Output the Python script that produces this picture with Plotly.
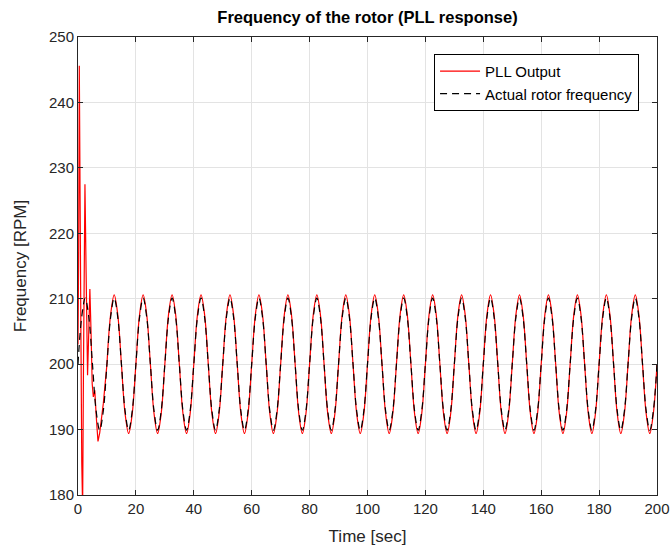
import plotly.graph_objects as go

# ---------------- data ----------------
SAMPLE_STEP = 1.25  # seconds between samples of the steady-state traces

# Actual rotor frequency (RPM), one row per 10 s period, t = 0 .. 200
actual_rpm = [
    200.0, 207.1, 210.1, 207.1, 200.0, 192.9, 189.9, 192.9,
    200.0, 207.1, 210.1, 207.1, 200.0, 192.9, 189.9, 192.9,
    200.0, 207.1, 210.1, 207.1, 200.0, 192.9, 189.9, 192.9,
    200.0, 207.1, 210.1, 207.1, 200.0, 192.9, 189.9, 192.9,
    200.0, 207.1, 210.1, 207.1, 200.0, 192.9, 189.9, 192.9,
    200.0, 207.1, 210.1, 207.1, 200.0, 192.9, 189.9, 192.9,
    200.0, 207.1, 210.1, 207.1, 200.0, 192.9, 189.9, 192.9,
    200.0, 207.1, 210.1, 207.1, 200.0, 192.9, 189.9, 192.9,
    200.0, 207.1, 210.1, 207.1, 200.0, 192.9, 189.9, 192.9,
    200.0, 207.1, 210.1, 207.1, 200.0, 192.9, 189.9, 192.9,
    200.0, 207.1, 210.1, 207.1, 200.0, 192.9, 189.9, 192.9,
    200.0, 207.1, 210.1, 207.1, 200.0, 192.9, 189.9, 192.9,
    200.0, 207.1, 210.1, 207.1, 200.0, 192.9, 189.9, 192.9,
    200.0, 207.1, 210.1, 207.1, 200.0, 192.9, 189.9, 192.9,
    200.0, 207.1, 210.1, 207.1, 200.0, 192.9, 189.9, 192.9,
    200.0, 207.1, 210.1, 207.1, 200.0, 192.9, 189.9, 192.9,
    200.0, 207.1, 210.1, 207.1, 200.0, 192.9, 189.9, 192.9,
    200.0, 207.1, 210.1, 207.1, 200.0, 192.9, 189.9, 192.9,
    200.0, 207.1, 210.1, 207.1, 200.0, 192.9, 189.9, 192.9,
    200.0, 207.1, 210.1, 207.1, 200.0, 192.9, 189.9, 192.9,
    200.0,
]
actual_start = 0.0

# PLL output, start-up transient (t, RPM), t = 0 .. 10
pll_transient_t = [0.0, 0.2, 0.45, 0.7, 1.0, 1.3, 1.6, 1.9, 2.4, 2.8, 3.3, 3.6,
                   4.1, 4.5, 4.9, 5.3, 5.8, 6.3, 6.9, 7.5, 8.0, 8.75, 10.0]
pll_transient_v = [203.0, 215.0, 245.6, 232.0, 205.0, 185.0, 178.0, 200.0, 227.5, 214.0, 198.3, 203.0,
                   211.5, 205.0, 197.0, 195.0, 196.0, 192.0, 188.2, 189.5, 191.0, 194.0, 200.0]

# PLL output, steady state, one row per 10 s period, t = 10 .. 200
pll_steady = [
    200.0, 207.5, 210.6, 207.5, 200.0, 192.5, 189.4, 192.5,
    200.0, 207.5, 210.6, 207.5, 200.0, 192.5, 189.4, 192.5,
    200.0, 207.5, 210.6, 207.5, 200.0, 192.5, 189.4, 192.5,
    200.0, 207.5, 210.6, 207.5, 200.0, 192.5, 189.4, 192.5,
    200.0, 207.5, 210.6, 207.5, 200.0, 192.5, 189.4, 192.5,
    200.0, 207.5, 210.6, 207.5, 200.0, 192.5, 189.4, 192.5,
    200.0, 207.5, 210.6, 207.5, 200.0, 192.5, 189.4, 192.5,
    200.0, 207.5, 210.6, 207.5, 200.0, 192.5, 189.4, 192.5,
    200.0, 207.5, 210.6, 207.5, 200.0, 192.5, 189.4, 192.5,
    200.0, 207.5, 210.6, 207.5, 200.0, 192.5, 189.4, 192.5,
    200.0, 207.5, 210.6, 207.5, 200.0, 192.5, 189.4, 192.5,
    200.0, 207.5, 210.6, 207.5, 200.0, 192.5, 189.4, 192.5,
    200.0, 207.5, 210.6, 207.5, 200.0, 192.5, 189.4, 192.5,
    200.0, 207.5, 210.6, 207.5, 200.0, 192.5, 189.4, 192.5,
    200.0, 207.5, 210.6, 207.5, 200.0, 192.5, 189.4, 192.5,
    200.0, 207.5, 210.6, 207.5, 200.0, 192.5, 189.4, 192.5,
    200.0, 207.5, 210.6, 207.5, 200.0, 192.5, 189.4, 192.5,
    200.0, 207.5, 210.6, 207.5, 200.0, 192.5, 189.4, 192.5,
    200.0, 207.5, 210.6, 207.5, 200.0, 192.5, 189.4, 192.5,
    200.0,
]
pll_steady_start = 10.0

x_ticks = [0, 20, 40, 60, 80, 100, 120, 140, 160, 180, 200]
y_ticks = [180, 190, 200, 210, 220, 230, 240, 250]

# ---------------- figure ----------------
actual_t = [actual_start + i * SAMPLE_STEP for i in range(len(actual_rpm))]
pll_steady_t = [pll_steady_start + i * SAMPLE_STEP for i in range(len(pll_steady))]

FONT = "Liberation Sans, Arial, sans-serif"
AX = "#262626"

fig = go.Figure()
fig.add_trace(go.Scatter(
    x=pll_transient_t, y=pll_transient_v, mode="lines",
    line=dict(color="#ff0000", width=1.2), name="PLL Output",
    legendgroup="pll", showlegend=True, cliponaxis=True,
))
fig.add_trace(go.Scatter(
    x=pll_steady_t, y=pll_steady, mode="lines",
    line=dict(color="#ff0000", width=1.2, shape="spline", smoothing=1.0),
    name="PLL Output", legendgroup="pll", showlegend=False,
))
fig.add_trace(go.Scatter(
    x=actual_t, y=actual_rpm, mode="lines",
    line=dict(color="#000000", width=1.2, dash="7px,5px", shape="spline", smoothing=1.0),
    name="Actual rotor frequency",
))

fig.update_layout(
    width=671, height=550,
    margin=dict(l=78, r=14, t=37, b=55, autoexpand=False),
    paper_bgcolor="white", plot_bgcolor="white",
    font=dict(family=FONT, size=15, color=AX),
    title=dict(text="<b>Frequency of the rotor (PLL response)</b>",
               font=dict(family=FONT, size=16.5, color="#000000"),
               x=0.5, xref="paper", xanchor="center",
               y=1 - 17 / 550, yref="container", yanchor="middle"),
    legend=dict(x=0.969, y=0.963, xanchor="right", yanchor="top",
                bgcolor="white", bordercolor="#000000", borderwidth=1,
                font=dict(family=FONT, size=15, color="#000000"),
                tracegroupgap=0, itemwidth=40),
    showlegend=True,
)
fig.update_xaxes(
    range=[0, 200], tickvals=x_ticks, ticks="inside", ticklen=5, tickcolor=AX,
    showline=True, linecolor=AX, linewidth=1, mirror="ticks", automargin=False,
    showgrid=True, gridcolor="#e3e3e3", gridwidth=1, zeroline=False,
    title=dict(text="Time [sec]", font=dict(family=FONT, size=17, color=AX), standoff=14),
    tickfont=dict(family=FONT, size=15, color=AX),
)
fig.update_yaxes(
    range=[180, 250], tickvals=y_ticks, ticks="inside", ticklen=5, tickcolor=AX,
    showline=True, linecolor=AX, linewidth=1, mirror="ticks", automargin=False,
    showgrid=True, gridcolor="#e3e3e3", gridwidth=1, zeroline=False,
    title=dict(text="Frequency [RPM]", font=dict(family=FONT, size=17, color=AX), standoff=18),
    tickfont=dict(family=FONT, size=15, color=AX),
)

fig.write_html("out.html")
